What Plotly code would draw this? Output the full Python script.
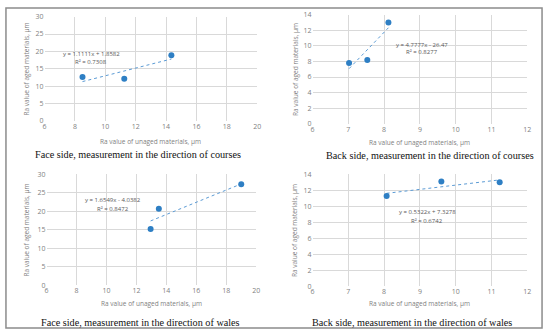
import plotly.graph_objects as go

# ---- data ----
tl_x = [8.5, 11.25, 14.35]
tl_y = [12.6, 12.1, 18.9]
tr_x = [7.02, 7.53, 8.12]
tr_y = [7.8, 8.2, 13.0]
bl_x = [12.95, 13.5, 19.0]
bl_y = [15.2, 20.7, 27.3]
br_x = [8.07, 9.6, 11.23]
br_y = [11.3, 13.1, 13.0]

slopes = [1.1111, 4.7777, 1.6549, 0.5322]
intercepts = [1.8582, -26.47, -4.0382, 7.3278]
eq_labels = ["y = 1.1111x + 1.8582", "y = 4.7777x - 26.47", "y = 1.6549x - 4.0382", "y = 0.5322x + 7.3278"]
r2_labels = ["R² = 0.7308", "R² = 0.8277", "R² = 0.8472", "R² = 0.6742"]
captions = ["Face side, measurement in the direction of courses",
            "Back side, measurement in the direction of courses",
            "Face side, measurement in the direction of wales",
            "Back side, measurement in the direction of wales"]
x_ranges = [[6, 20], [6, 12], [6, 20], [6, 12]]
x_dticks = [2, 1, 2, 1]
y_ranges = [[0, 30], [0, 14], [0, 30], [0, 14]]
y_dticks = [5, 2, 5, 2]
x_title = "Ra value of unaged materials, μm"
y_title = "Ra value of aged materials, μm"

W, H = 550, 335
# pixel boxes: left, right, top, bottom
boxes = [(43, 258, 12, 119), (314, 531, 10, 122), (45, 257, 174, 288), (314, 531, 174, 289)]
eq_pos = [(9.06, 19.3, 17.0), (9.07, 10.05, 9.15), (10.42, 23.0, 20.7), (9.2, 9.25, 8.1)]
cap_pos = [(137, 154), (433, 155), (140, 326), (415, 326)]
ytitle_x = [25, 296, 25, 296]
xtitle_y = [140, 141, 307, 307]

series = [(tl_x, tl_y), (tr_x, tr_y), (bl_x, bl_y), (br_x, br_y)]

fig = go.Figure()
tick_font = dict(family="Open Sans, Liberation Sans, sans-serif", size=7, color="#7f7f7f")
title_font = dict(family="Open Sans, Liberation Sans, sans-serif", size=6.5, color="#7f7f7f")
eq_font = dict(family="Open Sans, Liberation Sans, sans-serif", size=6, color="#595959")
annotations = []
for i, (xs, ys) in enumerate(series):
    n = "" if i == 0 else str(i + 1)
    xa, ya = "x" + n, "y" + n
    l, r, t, b = boxes[i]
    xmin, xmax = min(xs), max(xs)
    fig.add_trace(go.Scatter(x=[xmin, xmax],
                             y=[slopes[i] * xmin + intercepts[i], slopes[i] * xmax + intercepts[i]],
                             mode="lines", line=dict(color="#5B9BD5", width=1, dash="dot"),
                             xaxis=xa, yaxis=ya, showlegend=False, hoverinfo="skip"))
    fig.add_trace(go.Scatter(x=xs, y=ys, mode="markers",
                             marker=dict(color="#2E7FC4", size=6),
                             xaxis=xa, yaxis=ya, showlegend=False))
    axis_common = dict(showgrid=True, gridcolor="#D9D9D9", gridwidth=1, zeroline=False,
                       showline=False, ticks="", tickfont=tick_font, fixedrange=True)
    fig.layout["xaxis" + n] = go.layout.XAxis(domain=[l / W, r / W], range=x_ranges[i],
                                              dtick=x_dticks[i], anchor=ya, **axis_common)
    fig.layout["yaxis" + n] = go.layout.YAxis(domain=[1 - b / H, 1 - t / H], range=y_ranges[i],
                                              dtick=y_dticks[i], anchor=xa, **axis_common)
    ex, ey1, ey2 = eq_pos[i]
    center = dict(showarrow=False, xanchor="center", yanchor="middle")
    annotations.append(dict(x=ex, y=ey1, xref=xa, yref=ya, text=eq_labels[i], font=eq_font, **center))
    annotations.append(dict(x=ex, y=ey2, xref=xa, yref=ya, text=r2_labels[i], font=eq_font, **center))
    annotations.append(dict(x=(l + r) / 2 / W, y=1 - xtitle_y[i] / H, xref="paper", yref="paper",
                            text=x_title, font=title_font, **center))
    annotations.append(dict(x=ytitle_x[i] / W, y=1 - (t + b) / 2 / H, xref="paper", yref="paper",
                            text=y_title, font=title_font, textangle=-90, **center))
    cx, cy = cap_pos[i]
    annotations.append(dict(x=cx / W, y=1 - cy / H, xref="paper", yref="paper", text=captions[i],
                            font=dict(family="Liberation Serif, serif", size=10.2, color="#111111"), **center))

fig.update_layout(width=W, height=H, margin=dict(l=0, r=0, t=0, b=0),
                  paper_bgcolor="white", plot_bgcolor="white", annotations=annotations,
                  shapes=[dict(type="rect", xref="paper", yref="paper", x0=4 / W, x1=546 / W,
                               y0=1 - 332 / H, y1=1 - 3 / H, line=dict(color="#8C8C8C", width=1.5))])
fig.write_html("out.html", config={"displayModeBar": False},
               post_script="document.body.style.margin='0';")
